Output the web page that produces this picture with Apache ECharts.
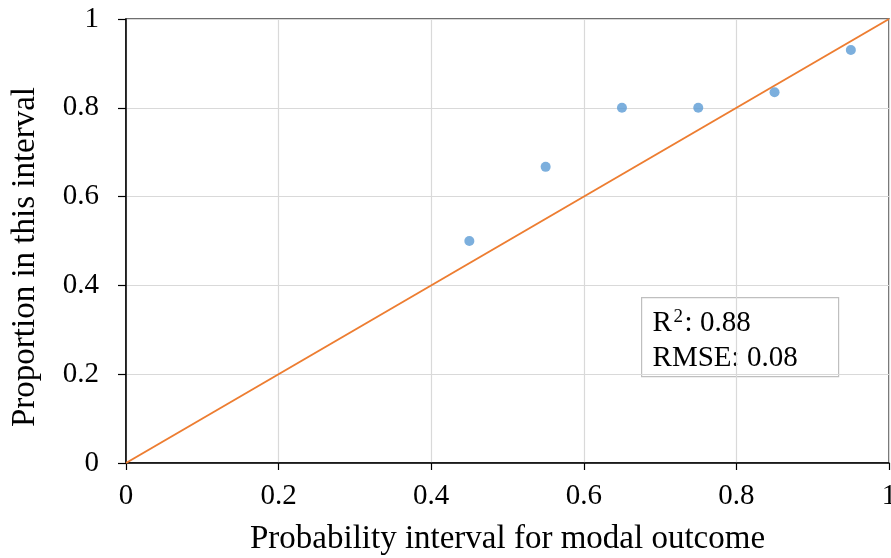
<!DOCTYPE html>
<html>
<head>
<meta charset="utf-8">
<script src="https://cdn.jsdelivr.net/npm/echarts@6/dist/echarts.min.js"></script>
<style>html,body{margin:0;padding:0;background:#fff;}#c{width:891px;height:558px;}</style>
</head>
<body>
<div id="c"></div>
<script>
const xValues = [0.45, 0.55, 0.65, 0.75, 0.85, 0.95];
const yValues = [0.5, 0.667, 0.8, 0.8, 0.835, 0.93];
const refLine = [[0, 0], [1, 1]];
const xTitle = 'Probability interval for modal outcome';
const yTitle = 'Proportion in this interval';
const statsR2 = '0.88';
const statsRMSE = '0.08';

const font = '"Liberation Serif", "Times New Roman", serif';
const txt = (x, y, text, size) => ({ type: 'text', x: x, y: y, style: { text: text, fontFamily: font, fontSize: size, fill: '#000', verticalAlign: 'top', align: 'left' } });
const chart = echarts.init(document.getElementById('c'));
chart.setOption({
  animation: false,
  grid: { left: 126, right: 2, top: 19, bottom: 95, containLabel: false, outerBoundsMode: 'none', show: true, borderColor: '#404040', borderWidth: 1.5, backgroundColor: 'transparent' },
  xAxis: {
    type: 'value', min: 0, max: 1, interval: 0.2,
    name: xTitle, nameLocation: 'middle', nameGap: 60,
    nameTextStyle: { fontFamily: font, fontSize: 33, color: '#000' },
    axisLine: { show: true, onZero: false, lineStyle: { color: '#000', width: 1.5 } },
    axisTick: { show: true, length: 7, lineStyle: { color: '#000', width: 1.2 } },
    axisLabel: { fontFamily: font, fontSize: 29, color: '#000', margin: 19, formatter: v => String(+v.toFixed(1)) },
    splitLine: { show: true, lineStyle: { color: '#d9d9d9', width: 1.2 } }
  },
  yAxis: {
    type: 'value', min: 0, max: 1, interval: 0.2,
    name: yTitle, nameLocation: 'middle', nameGap: 84,
    nameTextStyle: { fontFamily: font, fontSize: 33, color: '#000', padding: [0, 32, 0, 0] },
    axisLine: { show: true, onZero: false, lineStyle: { color: '#000', width: 1.5 } },
    axisTick: { show: true, length: 8, lineStyle: { color: '#000', width: 1.2 } },
    axisLabel: { fontFamily: font, fontSize: 29, color: '#000', margin: 27, formatter: v => String(+v.toFixed(1)) },
    splitLine: { show: true, lineStyle: { color: '#d9d9d9', width: 1.2 } }
  },
  graphic: [{
    type: 'group', left: 641, top: 297,
    children: [
      { type: 'rect', shape: { x: 0, y: 0, width: 197, height: 79 }, style: { fill: '#fff', stroke: '#bfbfbf', lineWidth: 1.2 } },
      txt(11, 11.5, 'R', 29),
      txt(32, 10, '2', 19),
      txt(43, 11.5, ': ' + statsR2, 29),
      txt(11, 46.5, 'RMSE: ' + statsRMSE, 29)
    ]
  }],
  series: [
    { type: 'line', data: refLine, symbol: 'none', lineStyle: { color: '#ED7D31', width: 2 }, z: 2 },
    { type: 'scatter', data: xValues.map((x, i) => [x, yValues[i]]), symbolSize: 10, itemStyle: { color: '#5B9BD5' }, z: 3 }
  ]
});
</script>
</body>
</html>
